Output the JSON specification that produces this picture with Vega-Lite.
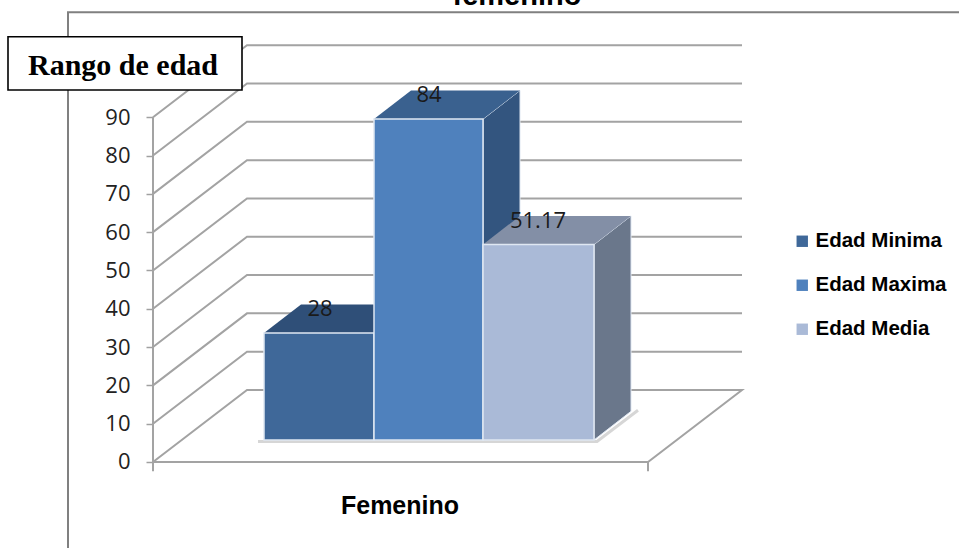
{
  "$schema": "https://vega.github.io/schema/vega-lite/v6.json",
  "width": 959,
  "height": 548,
  "padding": 0,
  "autosize": {"type": "none"},
  "background": "white",
  "config": {"view": {"stroke": null}},
  "datasets": {
    "barras": [
      {"serie": "Edad Minima", "valor": 28, "inicio": 264, "fin": 374, "centro": 320},
      {"serie": "Edad Maxima", "valor": 84, "inicio": 374, "fin": 483, "centro": 429},
      {"serie": "Edad Media", "valor": 51.17, "inicio": 483, "fin": 594, "centro": 538}
    ],
    "techos": [
      {"serie": "Edad Minima", "altura": 28, "desde": 264, "hasta": 374},
      {"serie": "Edad Minima", "altura": 35.5, "desde": 301, "hasta": 411},
      {"serie": "Edad Maxima", "altura": 84, "desde": 374, "hasta": 483},
      {"serie": "Edad Maxima", "altura": 91.5, "desde": 411, "hasta": 520},
      {"serie": "Edad Media", "altura": 51.17, "desde": 483, "hasta": 594},
      {"serie": "Edad Media", "altura": 58.67, "desde": 520, "hasta": 631}
    ],
    "costados": [
      {"serie": "Edad Minima", "posicion": 374, "piso": 0, "altura": 28},
      {"serie": "Edad Minima", "posicion": 411, "piso": 7.5, "altura": 35.5},
      {"serie": "Edad Maxima", "posicion": 483, "piso": 0, "altura": 84},
      {"serie": "Edad Maxima", "posicion": 520, "piso": 7.5, "altura": 91.5},
      {"serie": "Edad Media", "posicion": 594, "piso": 0, "altura": 51.17},
      {"serie": "Edad Media", "posicion": 631, "piso": 7.5, "altura": 58.67}
    ],
    "sombra": [
      {"tramo": 0, "posicion": 258, "altura": -0.4},
      {"tramo": 1, "posicion": 597, "altura": -0.4},
      {"tramo": 2, "posicion": 638, "altura": 7.8}
    ],
    "reticula": [
      {"nivel": "0", "tramo": 0, "posicion": 153, "altura": 0},
      {"nivel": "0", "tramo": 1, "posicion": 648, "altura": 0},
      {"nivel": "0", "tramo": 2, "posicion": 742, "altura": 18.8},
      {"nivel": "0", "tramo": 3, "posicion": 247, "altura": 18.8},
      {"nivel": "0", "tramo": 4, "posicion": 153, "altura": 0},
      {"nivel": "10", "tramo": 0, "posicion": 153, "altura": 10},
      {"nivel": "10", "tramo": 1, "posicion": 247, "altura": 28.8},
      {"nivel": "10", "tramo": 2, "posicion": 742, "altura": 28.8},
      {"nivel": "20", "tramo": 0, "posicion": 153, "altura": 20},
      {"nivel": "20", "tramo": 1, "posicion": 247, "altura": 38.8},
      {"nivel": "20", "tramo": 2, "posicion": 742, "altura": 38.8},
      {"nivel": "30", "tramo": 0, "posicion": 153, "altura": 30},
      {"nivel": "30", "tramo": 1, "posicion": 247, "altura": 48.8},
      {"nivel": "30", "tramo": 2, "posicion": 742, "altura": 48.8},
      {"nivel": "40", "tramo": 0, "posicion": 153, "altura": 40},
      {"nivel": "40", "tramo": 1, "posicion": 247, "altura": 58.8},
      {"nivel": "40", "tramo": 2, "posicion": 742, "altura": 58.8},
      {"nivel": "50", "tramo": 0, "posicion": 153, "altura": 50},
      {"nivel": "50", "tramo": 1, "posicion": 247, "altura": 68.8},
      {"nivel": "50", "tramo": 2, "posicion": 742, "altura": 68.8},
      {"nivel": "60", "tramo": 0, "posicion": 153, "altura": 60},
      {"nivel": "60", "tramo": 1, "posicion": 247, "altura": 78.8},
      {"nivel": "60", "tramo": 2, "posicion": 742, "altura": 78.8},
      {"nivel": "70", "tramo": 0, "posicion": 153, "altura": 70},
      {"nivel": "70", "tramo": 1, "posicion": 247, "altura": 88.8},
      {"nivel": "70", "tramo": 2, "posicion": 742, "altura": 88.8},
      {"nivel": "80", "tramo": 0, "posicion": 153, "altura": 80},
      {"nivel": "80", "tramo": 1, "posicion": 247, "altura": 98.8},
      {"nivel": "80", "tramo": 2, "posicion": 742, "altura": 98.8},
      {"nivel": "90", "tramo": 0, "posicion": 153, "altura": 90},
      {"nivel": "90", "tramo": 1, "posicion": 247, "altura": 108.8},
      {"nivel": "90", "tramo": 2, "posicion": 742, "altura": 108.8},
      {"nivel": "eje", "tramo": 0, "posicion": 153, "altura": 90},
      {"nivel": "eje", "tramo": 1, "posicion": 153, "altura": -2.4},
      {"nivel": "marca", "tramo": 0, "posicion": 648, "altura": 0},
      {"nivel": "marca", "tramo": 1, "posicion": 648, "altura": -2.4}
    ],
    "marco": [
      {"tramo": 0, "posicion": 68, "altura": -22.45},
      {"tramo": 1, "posicion": 68, "altura": 117.4},
      {"tramo": 2, "posicion": 959, "altura": 117.4}
    ]
  },
  "resolve": {"scale": {"y": "independent"}},
  "layer": [
    {
      "layer": [
        {
          "data": {"name": "marco"},
          "mark": {"type": "line", "stroke": "#808080", "strokeWidth": 2, "interpolate": "linear"},
          "encoding": {
            "x": {"field": "posicion", "type": "quantitative", "scale": {"domain": [0, 959], "nice": false, "zero": false}, "axis": null},
            "y": {"field": "altura", "type": "quantitative", "scale": {"domain": [-22.45, 120.6], "nice": false, "zero": false},
              "axis": {
                "title": null,
                "offset": -153,
                "values": [0, 10, 20, 30, 40, 50, 60, 70, 80, 90],
                "domain": false,
                "grid": false,
                "ticks": true,
                "tickSize": 7,
                "tickWidth": 1.5,
                "tickColor": "#a0a0a0",
                "labelPadding": 16,
                "labelFont": "Open Sans",
                "labelFontSize": 22,
                "labelColor": "#222222"
              }
            },
            "order": {"field": "tramo"}
          }
        },
        {
          "data": {"values": [{"rotulo": "femenino", "posicion": 517, "altura": 119.3}]},
          "mark": {"type": "text", "font": "Liberation Sans", "fontSize": 29, "fontWeight": "bold", "color": "#000000", "align": "center", "baseline": "alphabetic"},
          "encoding": {
            "x": {"field": "posicion", "type": "quantitative"},
            "y": {"field": "altura", "type": "quantitative"},
            "text": {"field": "rotulo"}
          }
        },
        {
          "data": {"name": "reticula"},
          "mark": {"type": "line", "stroke": "#a3a3a3", "strokeWidth": 2},
          "encoding": {
            "x": {"field": "posicion", "type": "quantitative"},
            "y": {"field": "altura", "type": "quantitative"},
            "detail": {"field": "nivel"},
            "order": {"field": "tramo"}
          }
        },
        {
          "data": {"values": [{"izquierda": 8, "derecha": 242, "arriba": 111, "abajo": 97.1}]},
          "mark": {"type": "rect", "fill": "white", "stroke": "#000000", "strokeWidth": 1.6},
          "encoding": {
            "x": {"field": "izquierda", "type": "quantitative"},
            "x2": {"field": "derecha"},
            "y": {"field": "arriba", "type": "quantitative"},
            "y2": {"field": "abajo"}
          }
        },
        {
          "data": {"values": [{"rotulo": "Rango de edad", "posicion": 123, "altura": 103.4}]},
          "mark": {"type": "text", "font": "Liberation Serif", "fontSize": 30, "fontWeight": "bold", "color": "#000000", "align": "center", "baseline": "middle"},
          "encoding": {
            "x": {"field": "posicion", "type": "quantitative"},
            "y": {"field": "altura", "type": "quantitative"},
            "text": {"field": "rotulo"}
          }
        },
        {
          "data": {"values": [{"rotulo": "Femenino", "posicion": 400, "altura": -11.4}]},
          "mark": {"type": "text", "font": "Liberation Sans", "fontSize": 25, "fontWeight": "bold", "color": "#000000", "align": "center", "baseline": "middle"},
          "encoding": {
            "x": {"field": "posicion", "type": "quantitative"},
            "y": {"field": "altura", "type": "quantitative"},
            "text": {"field": "rotulo"}
          }
        }
      ]
    },
    {
      "layer": [
        {
          "data": {"name": "sombra"},
          "mark": {"type": "line", "stroke": "#b5b5b5", "strokeWidth": 3, "opacity": 0.55},
          "encoding": {
            "x": {"field": "posicion", "type": "quantitative", "scale": {"domain": [0, 959], "nice": false, "zero": false}, "axis": null},
            "y": {"field": "altura", "type": "quantitative", "scale": {"domain": [-28.27, 115.18], "nice": false, "zero": false}, "axis": null},
            "order": {"field": "tramo"}
          }
        },
        {
          "data": {"name": "costados"},
          "mark": {"type": "area", "orient": "vertical", "stroke": "#dfe7f2", "strokeWidth": 1},
          "encoding": {
            "x": {"field": "posicion", "type": "quantitative"},
            "y": {"field": "altura", "type": "quantitative"},
            "y2": {"field": "piso"},
            "detail": {"field": "serie"},
            "color": {
              "condition": [
                {"test": "datum.serie === 'Edad Minima'", "value": "#2f4f78"},
                {"test": "datum.serie === 'Edad Maxima'", "value": "#33557f"}
              ],
              "value": "#6a778b"
            }
          }
        },
        {
          "data": {"name": "techos"},
          "mark": {"type": "area", "orient": "horizontal"},
          "encoding": {
            "y": {"field": "altura", "type": "quantitative"},
            "x": {"field": "desde", "type": "quantitative"},
            "x2": {"field": "hasta"},
            "detail": {"field": "serie"},
            "color": {
              "condition": [
                {"test": "datum.serie === 'Edad Minima'", "value": "#2f4f78"},
                {"test": "datum.serie === 'Edad Maxima'", "value": "#3a618f"}
              ],
              "value": "#838fa6"
            }
          }
        },
        {
          "data": {"name": "barras"},
          "mark": {"type": "rect", "stroke": "#dfe7f2", "strokeWidth": 1.5},
          "encoding": {
            "x": {"field": "inicio", "type": "quantitative"},
            "x2": {"field": "fin"},
            "y": {"field": "valor", "type": "quantitative"},
            "y2": {"datum": 0},
            "color": {
              "field": "serie",
              "type": "nominal",
              "scale": {
                "domain": ["Edad Minima", "Edad Maxima", "Edad Media"],
                "range": ["#3f6899", "#4f81bd", "#aabad7"]
              },
              "legend": {
                "title": null,
                "orient": "none",
                "legendX": 792,
                "legendY": 231,
                "padding": 0,
                "symbolType": "square",
                "symbolSize": 130,
                "symbolStrokeWidth": 0,
                "labelFont": "Liberation Sans",
                "labelFontSize": 20.5,
                "labelFontWeight": "bold",
                "labelColor": "#000000",
                "labelOffset": 3,
                "rowPadding": 23
              }
            }
          }
        },
        {
          "data": {"name": "barras"},
          "mark": {"type": "text", "font": "Open Sans", "fontSize": 22, "color": "#1a1a1a", "dy": -24, "align": "center", "baseline": "middle"},
          "encoding": {
            "x": {"field": "centro", "type": "quantitative"},
            "y": {"field": "valor", "type": "quantitative"},
            "text": {"field": "valor", "type": "nominal"}
          }
        }
      ]
    }
  ]
}
